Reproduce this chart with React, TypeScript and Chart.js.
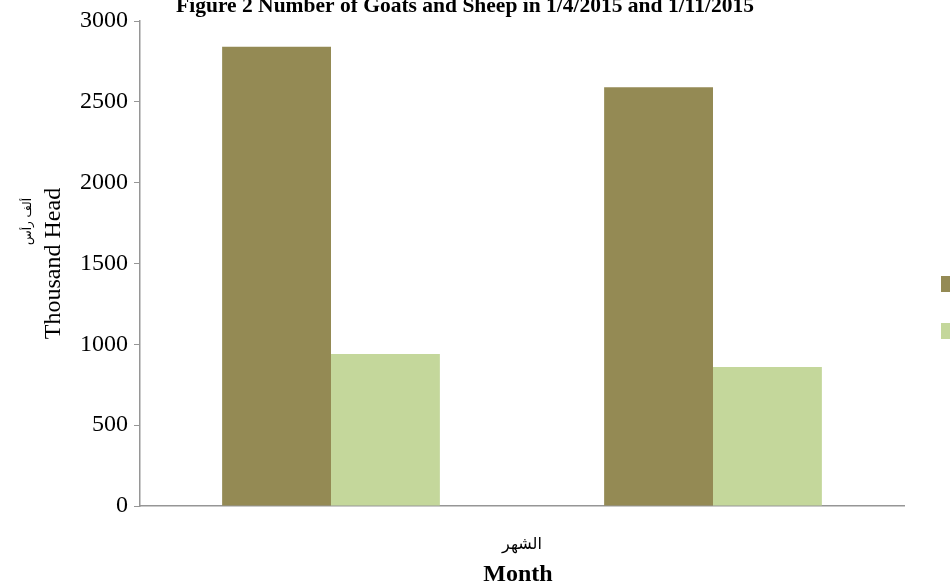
import React, { useEffect, useRef } from "react";
import { Chart, registerables } from "chart.js";

Chart.register(...registerables);

const categories = ["1/4/2015", "1/11/2015"];
const seriesNames = ["Sheep أغنام", "Goats ماعز"];
const seriesA = [2840, 2590];
const seriesB = [940, 860];
const colors = ["#948A54", "#C4D79B"];
const yTicks = [0, 500, 1000, 1500, 2000, 2500, 3000];
const titleText = "Figure 2 Number of Goats and Sheep in 1/4/2015 and 1/11/2015";
const yTitleAr = "ألف رأس";
const yTitleEn = "Thousand Head";
const xTitleAr = "الشهر";
const xTitleEn = "Month";

const SERIF = "'Liberation Serif', 'Times New Roman', 'DejaVu Serif', serif";
const AR = "'DejaVu Sans', 'Noto Sans', sans-serif";

const decorPlugin = {
  id: "decor",
  afterDraw(chart: any) {
    const ctx = chart.ctx;
    const area = chart.chartArea;
    ctx.save();
    ctx.fillStyle = "#000";
    // title (clipped at top as in reference)
    ctx.font = `bold 21.5px ${SERIF}`;
    ctx.textAlign = "center";
    ctx.textBaseline = "alphabetic";
    ctx.fillText(titleText, 465, 12);

    // y title
    const cy = (area.top + area.bottom) / 2;
    ctx.save();
    ctx.translate(28, cy - 42);
    ctx.rotate(-Math.PI / 2);
    ctx.font = `12px ${AR}`;
    ctx.textBaseline = "middle";
    ctx.fillText(yTitleAr, 0, 0);
    ctx.restore();
    ctx.save();
    ctx.translate(54, cy);
    ctx.rotate(-Math.PI / 2);
    ctx.font = `24px ${SERIF}`;
    ctx.textBaseline = "middle";
    ctx.fillText(yTitleEn, 0, 0);
    ctx.restore();

    // x title
    const cx = (area.left + area.right) / 2;
    ctx.textBaseline = "middle";
    ctx.font = `16px ${AR}`;
    ctx.fillText(xTitleAr, cx, 545);
    ctx.font = `bold 24px ${SERIF}`;
    ctx.fillText(xTitleEn, cx - 4, 575);

    // legend boxes (labels fall outside the canvas)
    const boxes = [276, 323];
    chart.data.datasets.forEach((ds: any, i: number) => {
      ctx.fillStyle = ds.backgroundColor;
      ctx.fillRect(941, boxes[i], 14, 16);
    });
    ctx.restore();
  },
};

export default function App() {
  const ref = useRef<HTMLCanvasElement>(null);
  useEffect(() => {
    if (!ref.current) return;
    const chart = new Chart(ref.current, {
      type: "bar",
      data: {
        labels: categories,
        datasets: [
          { label: seriesNames[0], data: seriesA, backgroundColor: colors[0], borderWidth: 0 },
          { label: seriesNames[1], data: seriesB, backgroundColor: colors[1], borderWidth: 0 },
        ],
      },
      options: {
        animation: false,
        responsive: false,
        devicePixelRatio: 1,
        layout: { padding: { left: 0, top: 21, right: 46, bottom: 0 } },
        plugins: { legend: { display: false }, title: { display: false }, tooltip: { enabled: false } },
        datasets: { bar: { categoryPercentage: 0.57, barPercentage: 1 } },
        scales: {
          x: {
            ticks: { display: false },
            grid: { display: false },
            border: { display: true, color: "#969696", width: 1.5 },
            afterFit: (s: any) => { s.height = 81; },
          },
          y: {
            min: 0,
            max: 3000,
            afterBuildTicks: (s: any) => { s.ticks = yTicks.map((v) => ({ value: v })); },
            ticks: {
              color: "#000",
              font: { family: SERIF, size: 24 },
              padding: 6,
              callback: (v: any) => String(v),
            },
            grid: { drawOnChartArea: false, tickLength: 6, color: "#969696" },
            border: { display: true, color: "#969696", width: 1.5 },
            afterFit: (s: any) => { s.width = 140; },
          },
        },
      },
      plugins: [decorPlugin],
    } as any);
    return () => chart.destroy();
  }, []);
  return (
    <div style={{ position: "absolute", left: 0, top: 0, width: 950, height: 587, background: "#fff" }}>
      <canvas ref={ref} width={950} height={587} />
    </div>
  );
}
